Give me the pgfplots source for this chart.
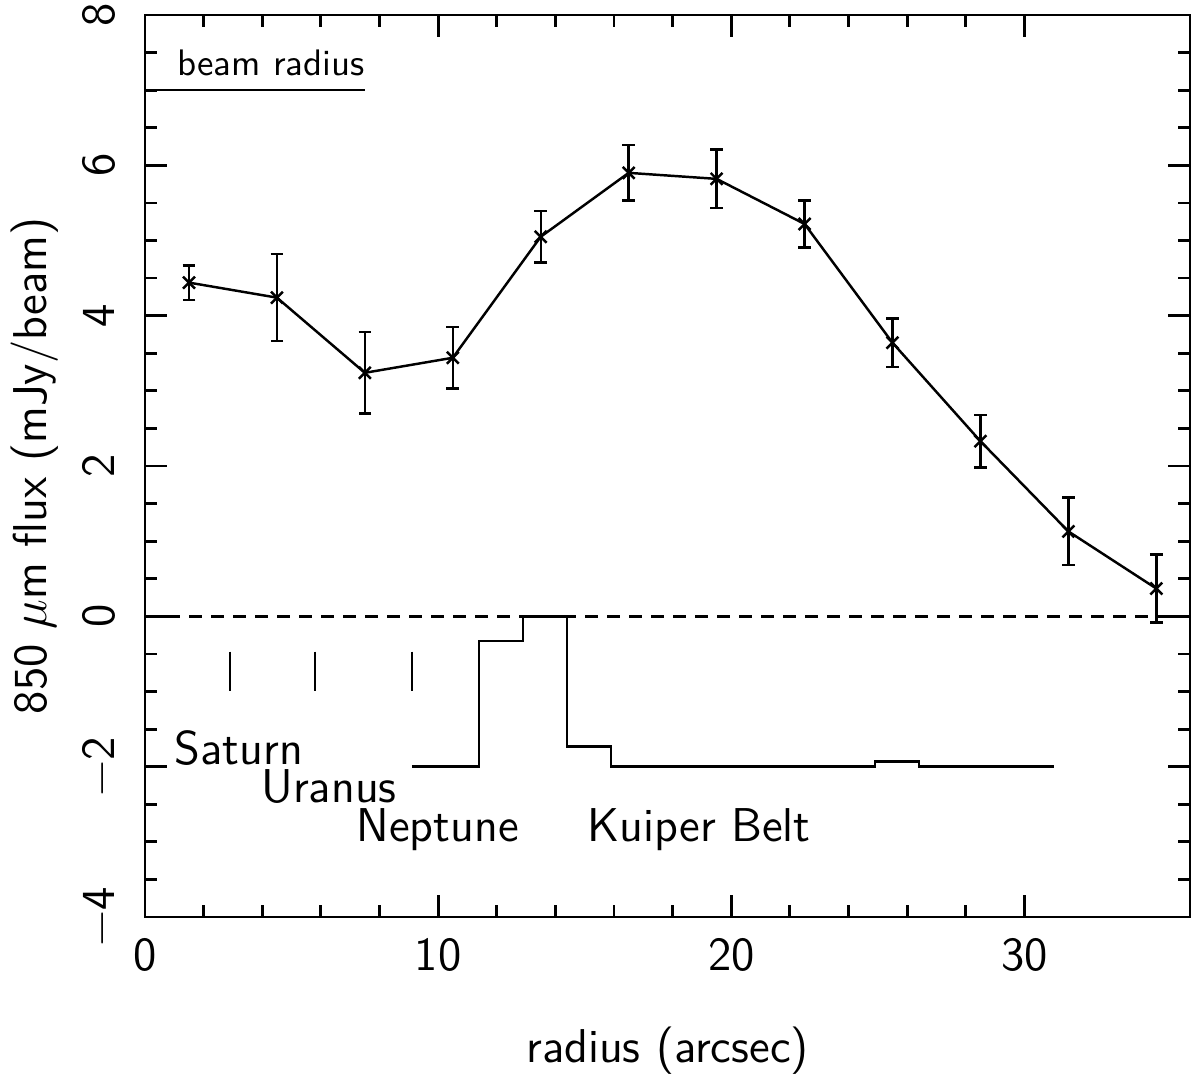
\documentclass[border=0pt]{standalone}
\usepackage{fontspec}
\usepackage{pgfplots}
\usepackage{pgfplotstable}
\pgfplotsset{compat=1.18}
\renewcommand{\familydefault}{\sfdefault}
\newcommand{\lblfont}{\fontsize{13.5}{16}\selectfont}

% radial profile: radius, flux, error
\pgfplotstableread{
x    y     e
1.5  4.44  0.23
4.5  4.24  0.58
7.5  3.24  0.54
10.5 3.44  0.41
13.5 5.05  0.34
16.5 5.90  0.37
19.5 5.82  0.39
22.5 5.22  0.31
25.5 3.64  0.32
28.5 2.33  0.35
31.5 1.13  0.45
34.5 0.37  0.45
}\profile

\begin{document}
\begin{tikzpicture}
\path[use as bounding box] (-1.45,-1.59) rectangle (10.54,9.17);
\begin{axis}[
    scale only axis,
    width=10.45cm, height=9.02cm,
    xmin=0, xmax=35.65, ymin=-4, ymax=8,
    xtick={0,10,20,30}, minor x tick num=4,
    ytick={-4,-2,0,2,4,6,8}, minor y tick num=3,
    yticklabels={−4,−2,0,2,4,6,8},
    tick align=inside,
    major tick length=0.22cm, minor tick length=0.12cm,
    axis line style={line width=0.8pt},
    tick style={line width=0.8pt, black},
    /pgf/number format/assume math mode=true,
    tick label style={font=\lblfont},
    xticklabel style={anchor=base, inner sep=0pt, yshift=-0.53cm},
    yticklabel style={xshift=-0.3cm, rotate=90, anchor=base, inner sep=0pt},
    every axis x label/.style={at={(axis description cs:0.5,-0.1608)}, anchor=base, inner sep=0pt, font=\lblfont},
    every axis y label/.style={at={(axis description cs:-0.0938,0.5)}, rotate=90, anchor=base, inner sep=0pt, font=\lblfont},
    xlabel={radius (arcsec)},
    ylabel={850 $\mu$m flux (mJy/beam)},
    clip=false,
]
% zero level
\addplot[black, line width=0.7pt, dash pattern=on 0.13cm off 0.09cm] coordinates {(0,0) (35.65,0)};

% beam radius bar
\addplot[black, line width=0.7pt] coordinates {(0,7) (7.5,7)};
\node[anchor=base west, inner sep=0pt, font=\fontsize{10.5}{12}\selectfont] at (axis cs:1.08,7.2) {beam radius};

% planet positions
\addplot[black, line width=0.7pt] coordinates {(2.9,-0.47) (2.9,-0.99)};
\addplot[black, line width=0.7pt] coordinates {(5.8,-0.47) (5.8,-0.99)};
\addplot[black, line width=0.7pt] coordinates {(9.1,-0.47) (9.1,-0.99)};

% Kuiper belt histogram
\addplot[black, line width=0.7pt, const plot] coordinates {
    (9.1,-2) (11.4,-0.33) (12.9,0) (14.4,-1.73) (15.9,-2)
    (24.9,-1.93) (26.4,-2) (31,-2)
};

\node[anchor=base west, inner sep=0pt, font=\lblfont] at (axis cs:0.99,-1.97) {Saturn};
\node[anchor=base west, inner sep=0pt, font=\lblfont] at (axis cs:3.95,-2.48) {Uranus};
\node[anchor=base west, inner sep=0pt, font=\lblfont] at (axis cs:7.2,-2.99) {Neptune};
\node[anchor=base west, inner sep=0pt, font=\lblfont] at (axis cs:15.08,-2.99) {Kuiper Belt};

% measured profile
\addplot[black, line width=0.7pt, mark=x, mark size=2.4pt,
    mark options={line width=0.7pt},
    error bars/.cd, y dir=both, y explicit,
    error bar style={line width=0.7pt},
    error mark options={rotate=90, mark size=1.8pt, line width=0.7pt}]
    table[x=x, y=y, y error=e] {\profile};
\end{axis}
\end{tikzpicture}
\end{document}
